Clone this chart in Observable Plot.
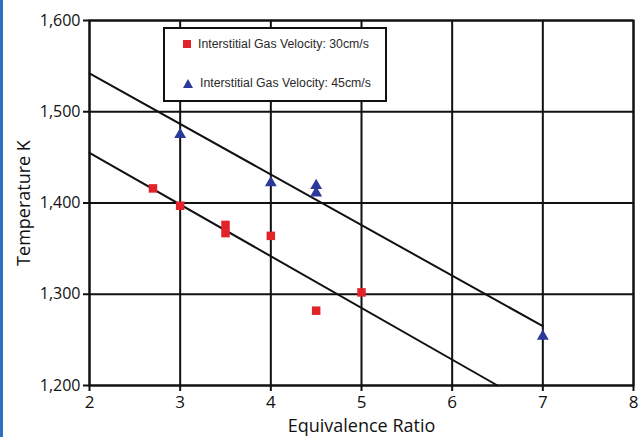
<!DOCTYPE html>
<html>
<head>
<meta charset="utf-8">
<script src="https://cdn.jsdelivr.net/npm/d3@7"></script>
<script src="https://cdn.jsdelivr.net/npm/@observablehq/plot@0.6"></script>
<style>
  html, body { margin: 0; padding: 0; background: #fff; }
  #wrap { position: relative; width: 644px; height: 437px; overflow: hidden; }
  #edge { position: absolute; left: 0; top: 0; width: 3px; height: 437px; background: #2f6fc0; }
  #legend { position: absolute; left: 163px; top: 27px; width: 220px; height: 71px; background: #fff;
    border: 2px solid #111; font-family: "Liberation Sans", Arial, sans-serif; font-size: 12.3px; color: #2a2a2a; }
  .entry { position: absolute; left: 0; display: flex; align-items: center; }
  .entry svg { margin-left: 18px; margin-right: 7px; }
</style>
</head>
<body>
<div id="wrap"><div id="edge"></div></div>
<script>
// Interstitial gas velocity 30 cm/s
const ratio30 = [2.7, 3.0, 3.5, 3.5, 4.0, 4.5, 5.0];
const temp30  = [1416, 1397, 1376, 1367, 1364, 1282, 1302];
// Interstitial gas velocity 45 cm/s
const ratio45 = [3.0, 4.0, 4.5, 4.5, 7.0];
const temp45  = [1475, 1422, 1419, 1411, 1254];
// Trend lines
const trend45X = [2, 7];
const trend45Y = [1542, 1265];
const trend30X = [2, 6.5];
const trend30Y = [1455, 1200];
// Ticks
const xTicks = [2, 3, 4, 5, 6, 7, 8];
const yTicks = [1200, 1300, 1400, 1500, 1600];
const seriesLabels = ["Interstitial Gas Velocity: 30cm/s", "Interstitial Gas Velocity: 45cm/s"];
const colors = ["#e3232a", "#2b3a99"];

const s30 = ratio30.map((x, i) => ({x, y: temp30[i]}));
const s45 = ratio45.map((x, i) => ({x, y: temp45[i]}));
const t30 = trend30X.map((x, i) => ({x, y: trend30Y[i]}));
const t45 = trend45X.map((x, i) => ({x, y: trend45Y[i]}));

const chart = Plot.plot({
  width: 644,
  height: 437,
  marginLeft: 89,
  marginRight: 11,
  marginTop: 20,
  marginBottom: 52,
  style: { fontFamily: "'Open Sans', sans-serif", fontSize: "15px", color: "#111", background: "transparent" },
  x: { domain: [2, 8] },
  y: { domain: [1200, 1600] },
  marks: [
    Plot.gridX(xTicks, { stroke: "#111", strokeOpacity: 1, strokeWidth: 2 }),
    Plot.gridY(yTicks, { stroke: "#111", strokeOpacity: 1, strokeWidth: 2 }),
    Plot.frame({ stroke: "#111", strokeWidth: 2 }),
    Plot.axisX(xTicks, { tickSize: 6, tickPadding: 4, stroke: "#111", strokeWidth: 2, fontSize: 17, fill: "#111", label: null }),
    Plot.axisX({ ticks: [], label: "Equivalence Ratio", labelAnchor: "center", labelOffset: 46, labelArrow: "none", fontSize: 18, fill: "#111" }),
    Plot.axisY(yTicks, { tickSize: 6, tickPadding: 3, stroke: "#111", strokeWidth: 2, tickFormat: d3.format(","), fontSize: 16, fill: "#111", label: null }),
    Plot.axisY({ ticks: [], label: "Temperature K", labelAnchor: "center", labelOffset: 72, labelArrow: "none", fontSize: 18, fill: "#111" }),
    Plot.line(t45, { x: "x", y: "y", stroke: "#111", strokeWidth: 2 }),
    Plot.line(t30, { x: "x", y: "y", stroke: "#111", strokeWidth: 2 }),
    Plot.dot(s30, { x: "x", y: "y", symbol: "square", r: 4.8, fill: colors[0] }),
    Plot.dot(s45, { x: "x", y: "y", symbol: "triangle", r: 4.4, fill: colors[1] })
  ]
});
const wrap = document.getElementById("wrap");
wrap.insertBefore(chart, wrap.firstChild);

// Legend
const legend = document.createElement("div");
legend.id = "legend";
const syms = [
  `<svg width="8" height="8"><rect width="8" height="8" fill="${colors[0]}"/></svg>`,
  `<svg width="10" height="9"><polygon points="5,0 10,9 0,9" fill="${colors[1]}"/></svg>`
];
const tops = [8, 47];
seriesLabels.forEach((lab, i) => {
  const e = document.createElement("div");
  e.className = "entry";
  e.style.top = tops[i] + "px";
  e.innerHTML = syms[i] + `<span>${lab}</span>`;
  legend.appendChild(e);
});
wrap.appendChild(legend);
</script>
</body>
</html>
